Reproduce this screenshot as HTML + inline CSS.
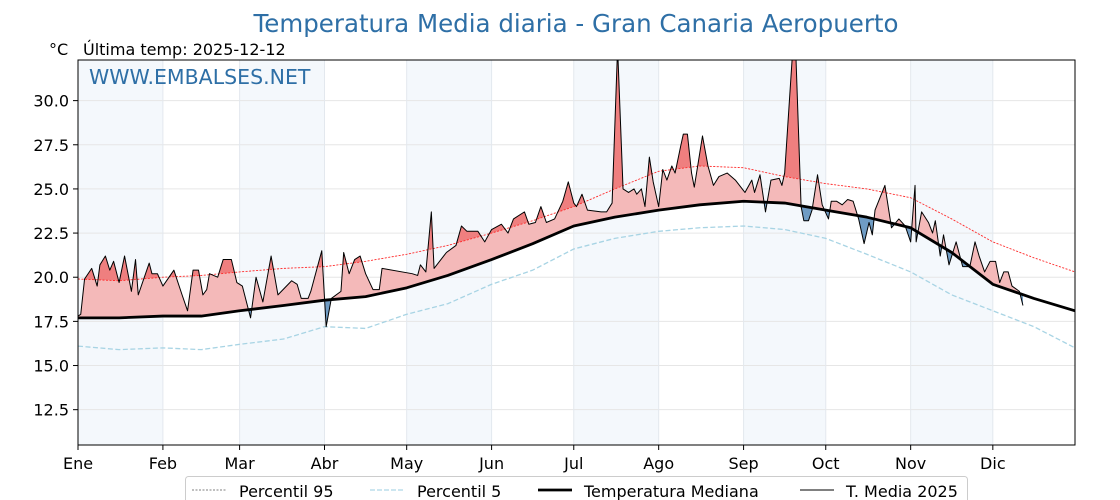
<!DOCTYPE html>
<html><head><meta charset="utf-8">
<style>
html,body{margin:0;padding:0;background:#fff;width:1120px;height:500px;overflow:hidden;font-family:"Liberation Sans","DejaVu Sans",sans-serif;}
svg text{font-family:"DejaVu Sans","Liberation Sans",sans-serif;}
</style></head>
<body>
<svg id="chart" width="1120" height="500" xmlns="http://www.w3.org/2000/svg">
<text x="576" y="32" text-anchor="middle" font-size="24.5" fill="#2e6fa6">Temperatura Media diaria - Gran Canaria Aeropuerto</text>
<text x="49" y="55" font-size="16" fill="#000">°C</text>
<text x="83" y="55" font-size="16" fill="#000">Última temp: 2025-12-12</text>
<g id="plot"></g>
<text x="89" y="84" font-size="20.5" fill="#2e6fa6">WWW.EMBALSES.NET</text>
<g>
<rect x="185.5" y="476.5" width="782" height="30" rx="3" fill="#fff" stroke="#ccc"/>
<line x1="192" y1="490" x2="226" y2="490" stroke="#555" stroke-width="0.8" stroke-dasharray="2,1.5"/>
<text x="239" y="497" font-size="16">Percentil 95</text>
<line x1="370" y1="490" x2="404" y2="490" stroke="#add8e6" stroke-width="1.2" stroke-dasharray="5,2"/>
<text x="417" y="497" font-size="16">Percentil 5</text>
<line x1="538" y1="490" x2="572" y2="490" stroke="#000" stroke-width="2.8"/>
<text x="584" y="497" font-size="16">Temperatura Mediana</text>
<line x1="800" y1="490" x2="834" y2="490" stroke="#000" stroke-width="1"/>
<text x="846" y="497" font-size="16">T. Media 2025</text>
</g>
</svg>
<script>
const monthLabels=["Ene","Feb","Mar","Abr","May","Jun","Jul","Ago","Sep","Oct","Nov","Dic"];
const monthDays=[0,31,59,90,120,151,181,212,243,273,304,334];
const yTicks=[12.5,15.0,17.5,20.0,22.5,25.0,27.5,30.0];
const refDays=[0,15,31,45,59,75,90,105,120,135,151,166,181,196,212,227,243,258,273,288,304,319,334,349,364];
const p95=[19.9,19.8,20.0,20.1,20.3,20.5,20.6,20.9,21.3,21.8,22.5,23.2,24.0,25.0,26.0,26.3,26.2,25.7,25.3,25.0,24.5,23.3,22.0,21.1,20.3];
const p5=[16.1,15.9,16.0,15.9,16.2,16.5,17.2,17.1,17.9,18.5,19.6,20.4,21.6,22.2,22.6,22.8,22.9,22.7,22.2,21.3,20.3,19.0,18.1,17.2,16.0];
const median=[17.7,17.7,17.8,17.8,18.1,18.4,18.7,18.9,19.4,20.1,21.0,21.9,22.9,23.4,23.8,24.1,24.3,24.2,23.8,23.4,22.8,21.4,19.6,18.8,18.1];
const days2025=[0,1,2.4,5,7,8,10,11.6,13,15,17,19.5,21,22,26,27,29,31,35,38,40,42,44,45.6,47,48,51,53,56,58,60,63,65,67.5,70.5,73,78,80,81.5,84,85,89,90.6,92.5,96,97,99,101,103,105,107.7,110,111,122,124,125,127,129,130,134.5,138,140,142,146,148.5,151,154.6,157,159,163,164.6,167,169,171,174,177,179,181,182,184,186,191,193,195,197,199,201,203,204,205.7,207,208.6,210,212,213.5,215,216.8,218,220,221,222.5,224,225,228,230,232,234,237,240,243.5,246,247,249,251,253,256,257,258,261,262,264,265,266.7,268,270,271.7,274,275,277,279,281,283,285,287,288.8,290,291,294.6,297,299.7,302,304,305.6,306,308,310.5,312,313,314.8,316,318,320.6,323,325.6,327.5,329,331,333,335,336.5,338,339.6,341,343.7,345];
const temp2025=[17.8,17.9,19.9,20.5,19.5,20.7,21.2,20.4,20.9,19.7,21.2,19.2,21.0,19.0,20.8,20.2,20.2,19.5,20.4,19.0,18.1,20.4,20.4,19.0,19.3,20.2,20.0,21.0,21.0,19.7,19.5,17.7,20.0,18.6,21.2,19.0,19.8,19.6,18.8,18.8,19.2,21.5,17.2,18.8,19.2,21.4,20.2,21.0,21.2,20.2,19.3,19.3,20.5,20.2,20.1,20.7,20.3,23.7,20.5,21.4,21.8,22.9,22.6,22.6,22.0,22.7,23.0,22.5,23.3,23.7,23.0,23.1,24.0,23.1,23.3,24.3,25.4,24.2,24.0,24.7,23.8,23.7,23.7,24.2,33.0,25.0,24.8,25.0,24.7,25.0,24.0,26.8,25.4,24.0,26.1,25.5,26.3,25.9,27.4,28.1,28.1,25.9,25.1,28.0,26.3,25.2,25.7,25.9,25.5,24.8,25.5,24.8,25.8,23.7,25.5,25.6,25.2,25.9,33.0,33.0,24.0,23.2,23.2,23.8,25.8,24.1,23.3,24.3,24.3,24.1,24.4,24.3,23.3,21.9,23.1,22.4,23.8,25.2,22.8,23.3,22.9,22.0,25.2,22.0,23.7,23.1,22.5,23.2,21.2,22.4,20.7,22.0,20.6,20.6,22.0,21.2,20.3,20.9,20.9,19.7,20.3,20.3,19.5,19.2,18.4];

const L=78,R=1075,T=60,B=445,Y0=10.5,Y1=32.3,DMAX=364;
const X=d=>L+(R-L)*d/DMAX;
const Y=v=>B-(B-T)*(v-Y0)/(Y1-Y0);
const NS="http://www.w3.org/2000/svg";
const root=document.getElementById('plot');
function mk(tag,attrs,parent){const e=document.createElementNS(NS,tag);for(const k in attrs)e.setAttribute(k,attrs[k]);(parent||plot).appendChild(e);return e;}
function pts(ds,vs){return ds.map((d,i)=>X(d).toFixed(2)+','+Y(vs[i]).toFixed(2)).join(' ');}
function interp(ds,vs,d){for(let i=1;i<ds.length;i++){if(d<=ds[i]){const t=(d-ds[i-1])/(ds[i]-ds[i-1]);return vs[i-1]+t*(vs[i]-vs[i-1]);}}return vs[vs.length-1];}

const defs=mk('defs',{},root);
const pc=mk('clipPath',{id:'plotArea'},defs);
mk('rect',{x:L,y:T,width:R-L,height:B-T},pc);
const plot=mk('g',{'clip-path':'url(#plotArea)'},root);

// month shading
for(let m=0;m<12;m+=2){
  const r=mk('rect',{x:X(monthDays[m]),y:T,width:X(m+1<12?monthDays[m+1]:DMAX)-X(monthDays[m]),height:B-T,fill:'#f4f8fc'});
  
  
}
yTicks.forEach(v=>{mk('line',{x1:L,x2:R,y1:Y(v),y2:Y(v),stroke:'#e6e6e6','stroke-width':1});});
monthDays.forEach(d=>{mk('line',{x1:X(d),x2:X(d),y1:T,y2:B,stroke:'#e3e8ee','stroke-width':1});});

function clipFromLine(id,ds,vs,toTop){
  const cp=mk('clipPath',{id:id},defs);
  const yEdge=toTop?0:500;
  mk('polygon',{points:X(ds[0])+','+yEdge+' '+pts(ds,vs)+' '+X(ds[ds.length-1])+','+yEdge},cp);
}
clipFromLine('aboveMed',refDays,median,true);
clipFromLine('belowMed',refDays,median,false);
clipFromLine('aboveP95',refDays,p95,true);
const last=days2025[days2025.length-1];
function band(ref){
  const rev=[];for(let i=refDays.length-1;i>=0;i--){if(refDays[i]<last&&refDays[i]>0)rev.push([refDays[i],ref[i]]);}
  return pts(days2025,temp2025)+' '+X(last)+','+Y(interp(refDays,ref,last))+' '+rev.map(p=>X(p[0])+','+Y(p[1])).join(' ')+' '+X(0)+','+Y(ref[0]);
}
const bandPts=band(median), band95=band(p95);

const fa=mk('polygon',{points:bandPts,fill:'#f4b9b9','clip-path':'url(#aboveMed)'});


const fb=mk('polygon',{points:bandPts,fill:'#6f9cc4','clip-path':'url(#belowMed)'});


const fc=mk('polygon',{points:band95,fill:'#ef7f7f','clip-path':'url(#aboveP95)'});



const l95=mk('polyline',{points:pts(refDays,p95),fill:'none',stroke:'#ff2a2a','stroke-width':0.9,'stroke-dasharray':'2,1.5'});


const l5=mk('polyline',{points:pts(refDays,p5),fill:'none',stroke:'#a8d4e4','stroke-width':1.3,'stroke-dasharray':'5,2.5'});


const lm=mk('polyline',{points:pts(refDays,median),fill:'none',stroke:'#000','stroke-width':2.8,'stroke-linejoin':'round'});


const lt=mk('polyline',{points:pts(days2025,temp2025),fill:'none',stroke:'#000','stroke-width':1,'stroke-linejoin':'round'});



mk('rect',{x:L,y:T,width:R-L,height:B-T,fill:'none',stroke:'#000','stroke-width':1},root);
yTicks.forEach(v=>{
  mk('line',{x1:L-5,x2:L,y1:Y(v),y2:Y(v),stroke:'#000'},root);
  const t=mk('text',{x:L-9,y:Y(v)+6,'text-anchor':'end','font-size':16},root);
  t.textContent=v.toFixed(1);
  
  
});
monthDays.forEach((d,i)=>{
  mk('line',{x1:X(d),x2:X(d),y1:B,y2:B+5,stroke:'#000'},root);
  const t=mk('text',{x:X(d),y:B+24,'text-anchor':'middle','font-size':16},root);
  t.textContent=monthLabels[i];
  
  
});
</script>
</body></html>
